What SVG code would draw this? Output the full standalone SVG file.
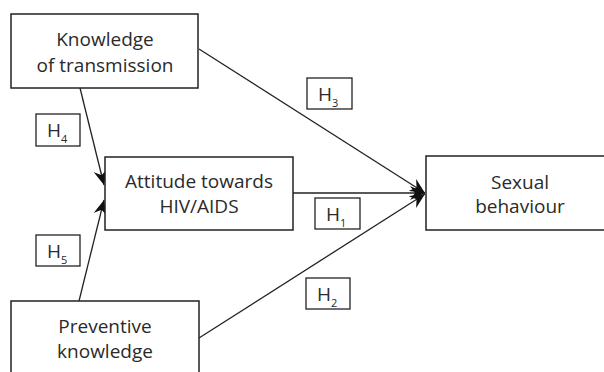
<svg xmlns="http://www.w3.org/2000/svg" width="604" height="372" viewBox="0 0 604 372">
<style>
.box{fill:#fff;stroke:#222;stroke-width:1.5}
.hb{fill:#fff;stroke:#222;stroke-width:1.3}
.t{font-family:"Open Sans","Noto Sans",sans-serif;font-size:19px;fill:#2a2a2a;text-anchor:middle}
.h{font-family:"Open Sans","Noto Sans",sans-serif;font-size:19px;fill:#2a2a2a}
.s{font-size:11px}
.ln{stroke:#222;stroke-width:1.3;fill:none}
</style>
<defs>
<marker id="ah" markerWidth="16" markerHeight="14" refX="15" refY="7" orient="auto" markerUnits="userSpaceOnUse">
<path d="M0,0 L15,7 L0,14 L5,7 Z" fill="#111"/>
</marker>
</defs>
<g id="connectors">
<line class="ln" x1="199" y1="49" x2="425" y2="193" marker-end="url(#ah)"/>
<line class="ln" x1="293" y1="193" x2="425" y2="193" marker-end="url(#ah)"/>
<line class="ln" x1="199" y1="338" x2="425" y2="194" marker-end="url(#ah)"/>
<line class="ln" x1="80" y1="88" x2="104" y2="185" marker-end="url(#ah)"/>
<line class="ln" x1="79" y1="301" x2="104" y2="200" marker-end="url(#ah)"/>
</g>
<g id="knowledge">
<rect class="box" x="11" y="14" width="187" height="74"/>
<text class="t" x="105" y="46">Knowledge</text>
<text class="t" x="105" y="72">of transmission</text>
</g>
<g id="attitude">
<rect class="box" x="105" y="157" width="188" height="73"/>
<text class="t" x="199" y="188">Attitude towards</text>
<text class="t" x="199" y="213">HIV/AIDS</text>
</g>
<g id="sexual">
<rect class="box" x="426" y="156" width="190" height="74"/>
<text class="t" x="520" y="189">Sexual</text>
<text class="t" x="520" y="213">behaviour</text>
</g>
<g id="preventive">
<rect class="box" x="11" y="301" width="188" height="80"/>
<text class="t" x="105" y="333">Preventive</text>
<text class="t" x="105" y="358">knowledge</text>
</g>
<g id="H3">
<rect class="hb" x="307" y="78" width="45" height="31"/>
<text class="h" x="318" y="101">H<tspan class="s" dy="6">3</tspan></text>
</g>
<g id="H1">
<rect class="hb" x="315" y="198" width="45" height="31"/>
<text class="h" x="326" y="221">H<tspan class="s" dy="6">1</tspan></text>
</g>
<g id="H2">
<rect class="hb" x="306" y="278" width="44" height="31"/>
<text class="h" x="317" y="301">H<tspan class="s" dy="6">2</tspan></text>
</g>
<g id="H4">
<rect class="hb" x="36" y="114" width="44" height="32"/>
<text class="h" x="47" y="137">H<tspan class="s" dy="6">4</tspan></text>
</g>
<g id="H5">
<rect class="hb" x="36" y="235" width="44" height="31"/>
<text class="h" x="47" y="258">H<tspan class="s" dy="6">5</tspan></text>
</g>
</svg>
